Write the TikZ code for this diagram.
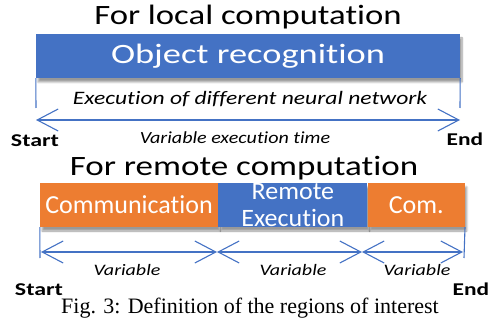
\documentclass[tikz,border=0pt]{standalone}
\usepackage{graphicx}
\usepackage{fontspec}
\setmainfont{Carlito}[Ligatures=NoCommon]
\newfontfamily\capfont{Liberation Serif}
\usetikzlibrary{
  arrows.meta,
  positioning,
  shadows.blur
}
\definecolor{officeblue}{HTML}{4472C4}
\definecolor{officeorange}{HTML}{ED7D31}
\newcommand{\hstretch}[2]{\scalebox{#1}[1]{#2}}

\begin{document}
\begin{tikzpicture}[x=1pt, y=-1pt,
    bar/.style = {minimum height=44pt, inner sep=0pt, text=white,
      blur shadow={shadow xshift=2pt, shadow yshift=-4pt, shadow blur steps=8}},
    span/.style = {officeblue, line width=1.1pt,
      {Straight Barb[length=21pt,width=22pt]}-{Straight Barb[length=21pt,width=22pt]}},
    tick/.style = {officeblue, line width=1.1pt},
    big/.style = {font=\fontsize{#1}{#1}\selectfont},
    note/.style = {font=\itshape\fontsize{#1}{#1}\selectfont},
    endlbl/.style = {font=\bfseries\fontsize{18}{18}\selectfont}
  ]
    \useasboundingbox (0,0) rectangle (490,320);

    % local computation
    \node[big=28] (loc) at (248,17) {\hstretch{1.24}{For local computation}};
    \node[bar, big=28, fill=officeblue, minimum width=424pt] (obj) at (248,56)
      {\hstretch{1.3}{Object recognition}};
    \coordinate (ls) at (36,120);
    \coordinate (le) at (460,120);
    \draw[tick] (obj.south west) -- (36,108);
    \draw[tick] (obj.south east) -- (460,108);
    \draw[span] (ls) -- (le);
    \node[note=19] (exe) at (250,99) {\hstretch{1.24}{Execution of different neural network}};
    \node[note=17] (vt) at (235,138) {\hstretch{1.18}{Variable execution time}};
    \node[endlbl] (s1) at (35,141) {\hstretch{1.33}{Start}};
    \node[endlbl] (e1) at (465,139) {\hstretch{1.3}{End}};

    % remote computation
    \node[big=28] (rem) at (244,168) {\hstretch{1.25}{For remote computation}};
    \node[bar, big=26, fill=officeorange, minimum width=178pt] (comm) at (129,205)
      {Communication};
    \node[bar, font=\fontsize{25}{27}\selectfont, fill=officeblue, minimum width=149pt,
      right=0pt of comm, align=center] (rexe) {\hstretch{1.04}{Remote}\\\hstretch{1.04}{Execution}};
    \node[bar, big=26, fill=officeorange, minimum width=97pt, right=0pt of rexe] (com2)
      {Com.};
    \coordinate (rs) at (41,252);
    \coordinate (r1) at (217,252);
    \coordinate (r2) at (362,252);
    \coordinate (re) at (463,252);
    \draw[tick] (comm.south west) -- (40,258);
    \draw[tick] (com2.south east) -- (464,258);
    \draw[span] (rs) -- (r1);
    \draw[span] (r1) -- (r2);
    \draw[span] (r2) -- (re);
    \node[note=16] (v1) at (127,270) {\hstretch{1.25}{Variable}};
    \node[note=16] (v2) at (293,270) {\hstretch{1.25}{Variable}};
    \node[note=16] (v3) at (417,270) {\hstretch{1.25}{Variable}};
    \node[endlbl] (s2) at (39,290) {\hstretch{1.33}{Start}};
    \node[endlbl] (e2) at (471,289) {\hstretch{1.3}{End}};

    \node[font=\capfont\fontsize{22}{22}\selectfont] (cap) at (250,308)
      {Fig. 3: Definition of the regions of interest};
  \end{tikzpicture}
\end{document}
